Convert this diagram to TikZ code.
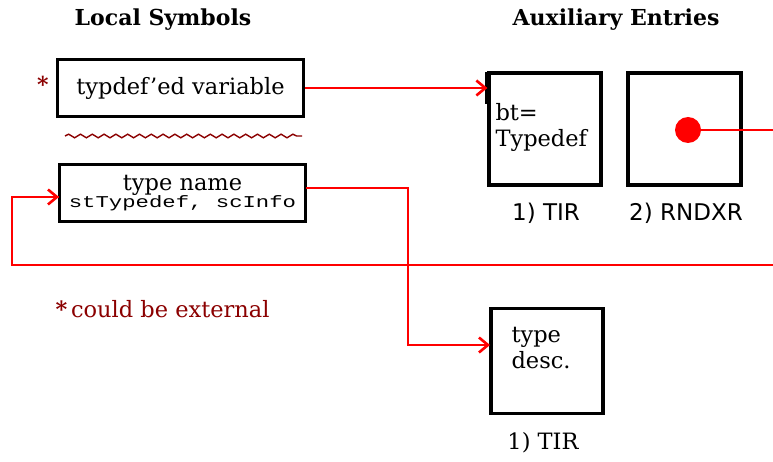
\documentclass[tikz,border=0pt]{standalone}
\usepackage{fontspec}
\setmainfont{DejaVu Serif}
\newfontfamily\sansf{DejaVu Sans}
\newfontfamily\monof[FakeStretch=1.35]{Liberation Mono}
\usetikzlibrary{arrows.meta,decorations.pathmorphing}
\definecolor{darkred}{HTML}{8B0000}
\definecolor{lred}{HTML}{FF0000}
\tikzset{
  box/.style={draw=black, line width=3.2pt, inner sep=0pt},
  conn/.style={draw=lred, line width=2.6pt},
  arr/.style={conn, -{Straight Barb[length=9pt,width=15pt,line width=2.6pt]}},
  head/.style={font=\fontsize{22}{24}\selectfont\bfseries},
  lbl/.style={font=\sansf\fontsize{23}{26}\selectfont},
  txt/.style={font=\fontsize{22.5}{26}\selectfont},
}
\begin{document}
\begin{tikzpicture}[x=1pt,y=-1pt]
\useasboundingbox (0,0) rectangle (773,462);
\node[head] (h1) at (163,20) {Local Symbols};
\node[head] (h2) at (616,20) {Auxiliary Entries};

\node[box, minimum width=246pt, minimum height=57pt, txt] (b1) at (180.5,88) {typdef’ed variable};
\node[darkred, font=\fontsize{22}{22}\selectfont\bfseries] (ast) at (43,84) {*};
\draw[darkred, line width=1.4pt, decorate, decoration={snake, segment length=11.8pt, amplitude=1.8pt}] (65,136) -- (302,136);

\node[box, minimum width=246pt, minimum height=57pt, align=center, inner sep=0pt] (b2) at (182.5,193)
  {{\fontsize{22.5}{22}\selectfont type name}\\[-1pt]{\monof\fontsize{16.5}{16}\selectfont stTypedef, scInfo}};

\node[box, minimum width=112pt, minimum height=112pt] (t1) at (545,129) {};
\node[txt, align=left, anchor=west] (t1t) at (492,127) {bt=\\Typedef};
\draw[line width=4.5pt] (t1.north west) ++(0,1) -- ++(0,32);
\node[box, minimum width=113pt, minimum height=112pt] (r1) at (684.5,129) {};
\node[lbl] (l1) at (546,213) {1) TIR};
\node[lbl] (l2) at (686,213) {2) RNDXR};

\node[box, minimum width=112pt, minimum height=105pt] (b3) at (547,361) {};
\node[txt, align=left, anchor=west] (b3t) at (508,348) {type\\desc.};
\node[txt] (l3) at (543,443) {1) TIR};

\node[darkred, txt, anchor=west] (note) at (52,309) {{\bfseries *}\,could be external};

% connectors
\draw[arr] (b1.east) -- (t1.west |- b1.east);

\node[circle, fill=lred, inner sep=0pt, minimum size=26pt] (dot) at (688,130) {};
\coordinate (rx) at (773,130);
\draw[conn] (dot) -- (rx);

\coordinate (lr) at (773,265);
\coordinate (ll) at (12,265);
\coordinate (lu) at (12,197);
\coordinate (b2in) at (59,197);
\draw[conn] (lr) -- (ll) -- (lu) -- (b2in);
\draw[arr] (lu) -- (b2in);

\coordinate (b2out) at (306,188);
\coordinate (c1) at (408,188);
\coordinate (c2) at (408,345);
\coordinate (b3in) at (490,345);
\draw[arr] (b2out) -- (c1) -- (c2) -- (b3in);
\end{tikzpicture}
\end{document}
